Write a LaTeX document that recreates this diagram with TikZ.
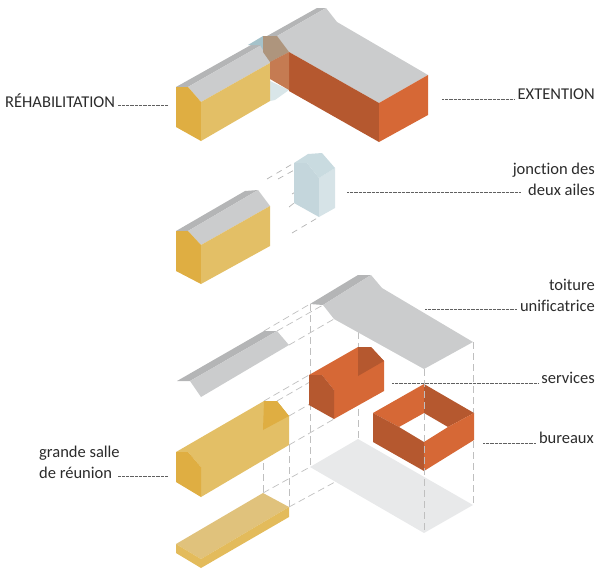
\documentclass[tikz,border=0pt]{standalone}
\usepackage{fontspec}
\setmainfont[Ligatures=NoCommon]{Carlito}
\usetikzlibrary{calc,positioning}
\definecolor{jaune}{HTML}{E3BF66}
\definecolor{jaunefonce}{HTML}{DFAE42}
\definecolor{dalle}{HTML}{E0C27C}
\definecolor{dalleflanc}{HTML}{E3BB5B}
\definecolor{gristoit}{HTML}{CBCCCD}
\definecolor{grisfaite}{HTML}{B4B5B6}
\definecolor{orange}{HTML}{D66836}
\definecolor{orangefonce}{HTML}{B5582F}
\definecolor{bleu}{HTML}{D6E3E7}
\definecolor{bleumoyen}{HTML}{C9DBE0}
\definecolor{bleufonce}{HTML}{C4D6DC}
\definecolor{bleutoit}{HTML}{A5C2CA}
\definecolor{brunjonc}{HTML}{AE957D}
\definecolor{orangejonc}{HTML}{C57B52}
\definecolor{sol}{HTML}{E8E9EA}
\definecolor{tinta}{HTML}{2B2B2B}
\tikzset{
  rappel/.style={draw=gray!50,line width=0.7pt,dash pattern=on 7pt off 4pt},
  rappelcourt/.style={draw=gray!60,line width=0.7pt,dash pattern=on 6pt off 5pt},
  repere/.style={draw=tinta!75,line width=0.5pt,dash pattern=on 0.8pt off 0.5pt},
  etiquette/.style={font=\fontsize{16.5}{21}\selectfont,text=tinta,inner sep=3pt,align=right},
}
\begin{document}
\begin{tikzpicture}[x=1pt,y=-1pt]
\useasboundingbox (0,0) rectangle (600,573);
% ensemble
\fill[bleumoyen!70] (270,81) -- (289,90) -- (275,100) -- (270,101) -- cycle;
\fill[grisfaite] (176,87) -- (317,8) -- (326,8) -- (188,87) -- cycle;
\fill[gristoit] (188,87) -- (326,8) -- (337,22) -- (428,75) -- (379,103) -- (289,52) -- (270,63) -- (201,102) -- cycle;
\fill[bleutoit] (248,45) -- (263,36) -- (263,50) -- (260,45) -- cycle;
\fill[jaunefonce] (176,87) -- (188,87) -- (201,102) -- (201,141) -- (176,127) -- cycle;
\fill[jaune] (201,102) -- (270,63) -- (270,101) -- (201,141) -- cycle;
\fill[orangefonce] (289,52) -- (379,103) -- (379,142) -- (289,91) -- cycle;
\fill[orange] (379,103) -- (428,75) -- (428,115) -- (379,142) -- cycle;
\fill[brunjonc] (263,36) -- (277,36) -- (289,52) -- (270,62) -- (263,52) -- cycle;
\fill[orangejonc] (270,62) -- (289,52) -- (289,90) -- (270,79) -- cycle;
% aile et jonction
\coordinate (j1) at (294,163);
\coordinate (j2) at (307,163);
\coordinate (j3) at (319,178);
\coordinate (j4) at (294,203);
\coordinate (j5) at (319,217);
\draw[rappelcourt] (267,179) -- (j1);
\draw[rappelcourt] (278,179) -- (j2);
\draw[rappelcourt] (292,194) -- (j3);
\draw[rappelcourt] (289,207) -- (j4);
\draw[rappelcourt] (292,233) -- (j5);
\fill[grisfaite] (176,231) -- (245,191) -- (258,190) -- (188,231) -- cycle;
\fill[gristoit] (188,231) -- (258,190) -- (270,206) -- (201,245) -- cycle;
\fill[jaunefonce] (176,231) -- (188,231) -- (201,245) -- (201,284) -- (176,271) -- cycle;
\fill[jaune] (201,245) -- (270,206) -- (270,246) -- (201,284) -- cycle;
\fill[bleufonce] (j1) -- (j2) -- (j3) -- (j5) -- (j4) -- cycle;
\fill[bleu] (j3) -- (335,168) -- (335,208) -- (j5) -- cycle;
\fill[bleumoyen] (j1) -- (308,154) -- (322,153) -- (335,168) -- (j3) -- (j2) -- cycle;
% eclate
\coordinate (t1) at (310,304);
\coordinate (t2) at (323,305);
\coordinate (t3) at (334,319);
\coordinate (t4) at (424,369);
\coordinate (t5) at (473,342);
\coordinate (r1) at (264,331);
\coordinate (r2) at (277,331);
\coordinate (r3) at (289,345);
\coordinate (m1) at (309,375);
\coordinate (m2) at (322,375);
\coordinate (m3) at (334,390);
\coordinate (m4) at (334,419);
\coordinate (m5) at (309,405);
\coordinate (m6) at (358,347);
\coordinate (s1) at (264,401);
\coordinate (s2) at (277,401);
\coordinate (s3) at (289,416);
\coordinate (s4) at (289,445);
\coordinate (s5) at (263,430);
\coordinate (d1) at (263,493);
\coordinate (d2) at (289,507);
\coordinate (f1) at (358,439);
\coordinate (f2) at (310,467);
\coordinate (f3) at (424,533);
\coordinate (f4) at (473,505);
\fill[sol] (f1) -- (f2) -- (f3) -- (f4) -- cycle;
\draw[rappel] (r1) -- (t1);
\draw[rappel] (r2) -- (t2);
\draw[rappel] (r3) -- (t3);
\draw[rappel] (s1) -- (m1);
\draw[rappel] (s2) -- (m2);
\draw[rappel] (s3) -- (m3);
\draw[rappel] (s4) -- (m4);
\draw[rappel] (d1) -- (f2);
\draw[rappel] (d2) -- (335,482);
\draw[rappel] (t1) -- (f2);
\draw[rappel] (358,332) -- (f1);
\draw[rappel] (s5) -- (d1);
\draw[rappel] (s4) -- (d2);
\draw[rappel] (t5) -- (f4);
% toitures
\fill[grisfaite] (t1) -- (358,275) -- (371,275) -- (t2) -- cycle;
\fill[gristoit] (t2) -- (371,275) -- (382,288) -- (t5) -- (t4) -- (t3) -- cycle;
\fill[grisfaite] (177,381) -- (r1) -- (r2) -- (190,381) -- cycle;
\fill[gristoit] (190,381) -- (r2) -- (r3) -- (201,397) -- cycle;
% services
\fill[orange] (m1) -- (m6) -- (371,347) -- (384,361) -- (384,391) -- (m4) -- (m3) -- (m2) -- cycle;
\fill[orangefonce] (m6) -- (371,347) -- (384,361) -- (358,376) -- cycle;
\fill[orangefonce] (m1) -- (m2) -- (m3) -- (m4) -- (m5) -- cycle;
% bureaux
\fill[orange] (373,413) -- (424,384) -- (424,413) -- (399,427) -- cycle;
\fill[orangefonce] (424,384) -- (474,413) -- (448,427) -- (424,413) -- cycle;
\fill[orangefonce] (373,413) -- (399,427) -- (424,442) -- (424,471) -- (373,442) -- cycle;
\fill[orange] (424,442) -- (448,427) -- (474,413) -- (474,440) -- (424,471) -- cycle;
% grande salle
\fill[jaune] (176,452) -- (s1) -- (s2) -- (s3) -- (s4) -- (201,497) -- (201,467) -- (188,452) -- cycle;
\fill[jaunefonce] (s1) -- (s2) -- (s3) -- (s5) -- cycle;
\fill[jaunefonce] (176,452) -- (188,452) -- (201,467) -- (201,497) -- (176,482) -- cycle;
\fill[dalle] (176,544) -- (d1) -- (d2) -- (201,559) -- cycle;
\fill[dalleflanc] (176,544) -- (201,559) -- (d2) -- (289,517) -- (201,568) -- (176,553) -- cycle;
\draw[rappel] (t4) -- (f3);
% textes
\node[etiquette,anchor=west] (lrehab) at (2,101) {RÉHABILITATION};
\node[etiquette,anchor=east] (lext) at (598,94) {EXTENTION};
\node[etiquette,anchor=east] (ljonc) at (598,179) {jonction des\\deux ailes};
\node[etiquette,anchor=east] (ltoit) at (598,295) {toiture\\unificatrice};
\node[etiquette,anchor=east] (lserv) at (598,378) {services};
\node[etiquette,anchor=east] (lbur) at (597,438) {bureaux};
\node[etiquette,anchor=west,align=left] (lsalle) at (36,462) {grande salle\\de réunion};
\coordinate (crehab) at (168,105);
\coordinate (cext) at (442,99);
\coordinate (cjonc) at (347,192);
\coordinate (cjoncb) at (521,192);
\coordinate (ctoit) at (425,309);
\coordinate (cserv) at (392,383);
\coordinate (cbur) at (483,443);
\coordinate (csalle) at (168,476);
\coordinate (csalleb) at (118,476);
\draw[repere] (crehab) -- (crehab -| lrehab.east);
\draw[repere] (cext) -- (cext -| lext.west);
\draw[repere] (cjonc) -- (cjoncb);
\draw[repere] (ctoit) -- (ctoit -| ltoit.west);
\draw[repere] (cserv) -- (cserv -| lserv.west);
\draw[repere] (cbur) -- (cbur -| lbur.west);
\draw[repere] (csalle) -- (csalleb);
\end{tikzpicture}
\end{document}
